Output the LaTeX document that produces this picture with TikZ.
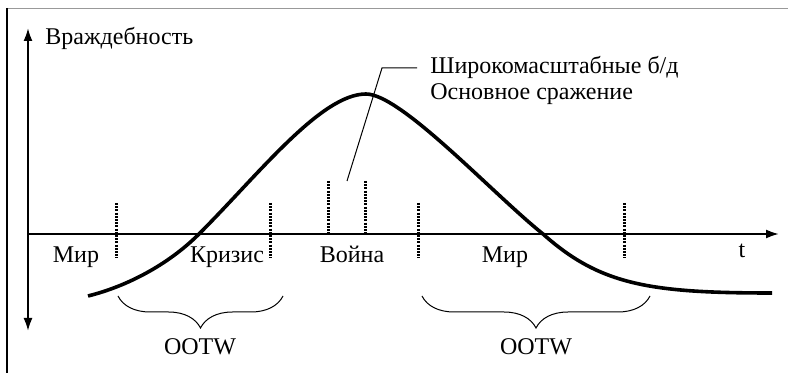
\documentclass[tikz,border=0pt]{standalone}
\usepackage{fontspec}
\setmainfont{Liberation Serif}
\usetikzlibrary{arrows.meta,positioning,decorations.pathreplacing}

\begin{document}
\begin{tikzpicture}[
            x=0.5pt, y=-0.5pt,
            every node/.style={font=\fontsize{12}{11}\selectfont, inner sep=0pt},
            axis/.style={line width=1pt, -{Latex[length=6.5pt,width=4.5pt]}},
            tick/.style={line width=1.5pt, dash pattern=on 1pt off 0.6pt},
            wave/.style={line width=1.8pt, line join=round},
            lead/.style={line width=0.5pt},
            ootw/.style={line width=0.5pt, decorate, decoration={brace, mirror, amplitude=16pt, aspect=0.5}}
        ]
            \useasboundingbox (0,0) rectangle (788,373);
            \draw[gray!80, line width=0.8pt] (7,8.5) -- (788,8.5);
            \draw[line width=0.6pt] (7,8) -- (7,373);

            \coordinate (o) at (28,234);
            \coordinate (ytop) at (28,28);
            \coordinate (ybot) at (28,331);
            \coordinate (tend) at (779,234);
            \draw[axis] (o) -- (ytop);
            \draw[axis] (o) -- (ybot);
            \draw[axis] (o) -- (tend);

            \node[anchor=base west] (hostility) at (45,45) {Враждебность};
            \node[anchor=base] (t) at (742,258) {t};

            \foreach \x in {116,270,418,624}
                \draw[tick] (\x,203) -- (\x,258);
            \foreach \x in {328,365}
                \draw[tick] (\x,181) -- (\x,234);

            \draw[wave] (88,296) .. controls (128,286) and (169,264) .. (199,234)
                .. controls (259,174) and (321,94) .. (366,94)
                .. controls (401,94) and (493,194) .. (543,234)
                .. controls (600,285) and (650,293) .. (772,293);

            \node[anchor=base] (peace1) at (76,263) {Мир};
            \node[anchor=base] (crisis) at (227,263) {Кризис};
            \node[anchor=base] (war) at (352,263) {Война};
            \node[anchor=base] (peace2) at (505,263) {Мир};

            \node[anchor=west, align=left] (battle) at (430,80)
                {Широкомасштабные б/д\\[2pt]Основное сражение};
            \coordinate (leadfoot) at (347,181);
            \coordinate (leadbend) at (382,68);
            \coordinate (leadend) at (417,68);
            \draw[lead] (leadfoot) -- (leadbend) -- (leadend);

            \coordinate (b1l) at (118,296);
            \coordinate (b1r) at (283,296);
            \coordinate (b2l) at (422,296);
            \coordinate (b2r) at (650,296);
            \draw[ootw] (b1l) -- (b1r);
            \draw[ootw] (b2l) -- (b2r);
            \node[anchor=base] (ootw1) at (200,355) {OOTW};
            \node[anchor=base] (ootw2) at (536,355) {OOTW};
        \end{tikzpicture}
\end{document}
